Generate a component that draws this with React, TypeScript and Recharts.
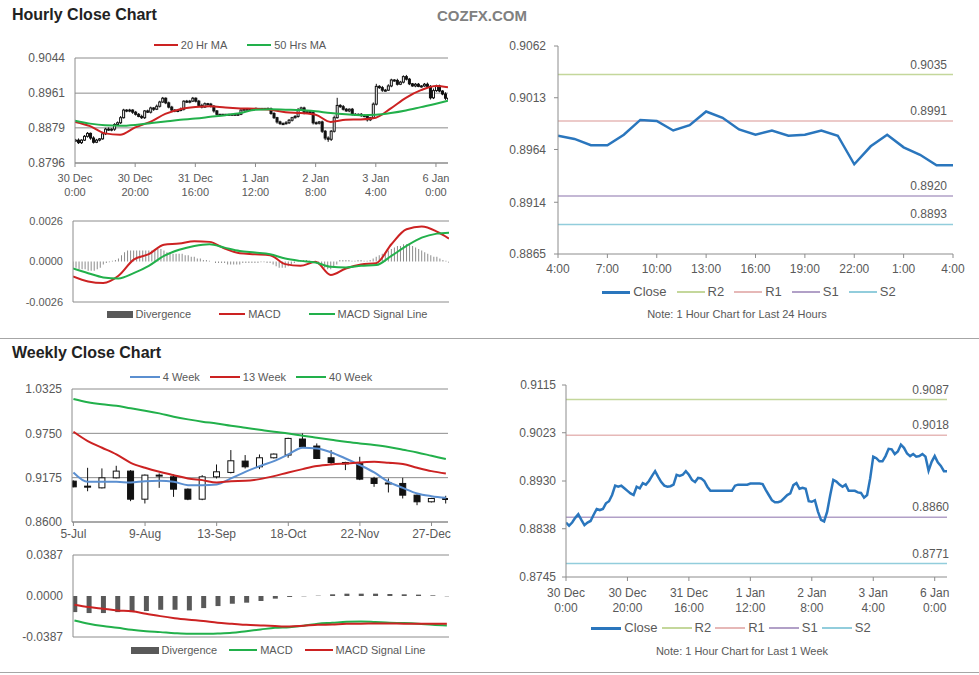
import React from "react";
import { ComposedChart, LineChart, Line, Bar, XAxis, YAxis, CartesianGrid, ReferenceLine } from "recharts";

const FONT = '"Liberation Sans", Arial, sans-serif';
const TEXT = "#595959";
const AXIS = "#8c8c8c";
const RED = "#cc2222";
const GREEN = "#22b04b";
const BLUE = "#2a76bd";

// hourly closes, 30 Dec 0:00 -> 6 Jan 4:00
const hourlyClose = [
  0.8850, 0.8844, 0.8850, 0.8859, 0.8866, 0.8855, 0.8845, 0.8850, 0.8853, 0.8865,
  0.8876, 0.8874, 0.8876, 0.8887, 0.8891, 0.8903, 0.8921, 0.8919, 0.8921, 0.8916,
  0.8911, 0.8906, 0.8903, 0.8919, 0.8916, 0.8926, 0.8923, 0.8930, 0.8940, 0.8949,
  0.8938, 0.8928, 0.8921, 0.8919, 0.8920, 0.8923, 0.8942, 0.8940, 0.8942, 0.8949,
  0.8942, 0.8932, 0.8928, 0.8936, 0.8935, 0.8930, 0.8919, 0.8911, 0.8911, 0.8911,
  0.8911, 0.8911, 0.8911, 0.8911, 0.8911, 0.8921, 0.8923, 0.8923, 0.8923, 0.8923,
  0.8925, 0.8925, 0.8925, 0.8925, 0.8924, 0.8913, 0.8903, 0.8893, 0.8889, 0.8889,
  0.8891, 0.8897, 0.8903, 0.8906, 0.8922, 0.8926, 0.8915, 0.8917, 0.8915, 0.8891,
  0.8890, 0.8893, 0.8871, 0.8855, 0.8852, 0.8871, 0.8903, 0.8932, 0.8929, 0.8923,
  0.8919, 0.8923, 0.8911, 0.8911, 0.8911, 0.8908, 0.8907, 0.8898, 0.8903, 0.8935,
  0.8977, 0.8974, 0.8968, 0.8968, 0.8978, 0.8992, 0.8991, 0.8982, 0.8987, 0.9000,
  0.8994, 0.8983, 0.8978, 0.8982, 0.8977, 0.8978, 0.8982, 0.8977, 0.8950, 0.8967,
  0.8978, 0.8966, 0.8959, 0.8949, 0.8949,
];

// candle wicks in pips above / below the body
const hourlyWickUp = [
  3, 4, 2, 3, 3, 2, 4, 3, 2, 3,
  3, 4, 2, 3, 3, 4, 3, 2, 3, 2,
  3, 3, 4, 2, 3, 3, 2, 4, 3, 3,
  2, 3, 3, 2, 3, 4, 2, 3, 3, 3,
  2, 3, 4, 3, 2, 3, 3, 2, 1, 1,
  1, 1, 1, 1, 2, 2, 1, 1, 1, 1,
  2, 1, 1, 1, 2, 3, 3, 2, 3, 3,
  4, 3, 2, 3, 4, 3, 3, 4, 2, 3,
  3, 2, 3, 3, 4, 3, 5, 18, 3, 4,
  3, 2, 3, 3, 2, 3, 3, 3, 2, 4,
  6, 3, 4, 3, 4, 3, 2, 4, 3, 3,
  4, 3, 2, 3, 3, 2, 3, 4, 3, 5,
  3, 3, 2, 4, 3,
];
const hourlyWickDown = [
  4, 3, 3, 2, 3, 4, 3, 2, 3, 2,
  3, 2, 3, 4, 2, 3, 2, 3, 3, 4,
  3, 2, 3, 3, 2, 3, 4, 2, 3, 2,
  3, 3, 2, 3, 3, 2, 3, 2, 3, 2,
  3, 2, 3, 2, 3, 3, 4, 2, 1, 1,
  1, 1, 1, 1, 1, 2, 1, 1, 1, 1,
  1, 1, 1, 1, 2, 3, 3, 4, 3, 3,
  2, 3, 3, 2, 3, 3, 4, 3, 2, 4,
  3, 3, 4, 5, 6, 4, 3, 2, 3, 3,
  2, 3, 3, 2, 2, 3, 3, 4, 3, 2,
  3, 3, 4, 3, 2, 3, 3, 3, 2, 3,
  3, 3, 2, 3, 2, 3, 2, 3, 4, 3,
  3, 3, 3, 4, 3,
];

const hourlyDivergence = [
  -0.0004, -0.0004, -0.0005, -0.0005, -0.0005, -0.0006, -0.0006, -0.0006, -0.0005, -0.0004,
  -0.0002, -0.0001, -0.00005, 0.00005, 0.0001, 0.0002, 0.0004, 0.0006, 0.0007, 0.0007,
  0.0007, 0.0007, 0.0007, 0.0007, 0.0007, 0.0007, 0.0007, 0.0008, 0.0008, 0.0008,
  0.0007, 0.0006, 0.0006, 0.0005, 0.0005, 0.0005, 0.0005, 0.0004, 0.0004, 0.0003,
  0.0003, 0.0002, 0.0002, 0.0001, 0.0001, 0.00005, 0, -0.0001, -0.0001, -0.0001,
  -0.0001, -0.0002, -0.0002, -0.0002, -0.0002, -0.0002, -0.0001, -0.0001, -0.0001, -0.0001,
  -0.0001, -0.0001, -0.00005, -0.00005, -0.0001, -0.0001, -0.0002, -0.0003, -0.0004, -0.0004,
  -0.0004, -0.0003, -0.0002, -0.0001, 0, 0.00005, 0.0001, 0.0001, 0.00005, -0.0001,
  -0.0001, -0.0002, -0.0003, -0.0004, -0.0005, -0.0005, -0.0004, -0.0002, 0.0001, 0.0001,
  0.0001, 0.0001, 0.00005, 0.00005, 0.0001, 0.0001, 0.00005, 0.00005, 0.0001, 0.0002,
  0.0003, 0.0004, 0.0005, 0.0006, 0.0007, 0.0008, 0.0009, 0.001, 0.001, 0.0011,
  0.0011, 0.0011, 0.001, 0.0009, 0.0008, 0.0007, 0.0006, 0.0005, 0.0004, 0.0003,
  0.0003, 0.0002, 0.0001, 0.00005, -0.0001,
];

// moving averages and MACD lines, read every 5 hours
const maHours = [0, 5, 10, 15, 20, 25, 30, 35, 40, 45, 50, 55, 60, 65, 70, 75, 80, 85, 90, 95, 100, 105, 110, 115, 120, 124];
const ma20Hr = [0.8893, 0.8883, 0.8866, 0.8863, 0.8880, 0.8893, 0.8912, 0.8923, 0.8928, 0.8930, 0.8927, 0.8925, 0.8924, 0.8922, 0.8916, 0.8914, 0.8910, 0.8893, 0.8898, 0.8899, 0.8903, 0.8925, 0.8950, 0.8968, 0.8978, 0.8975];
const ma50Hr = [0.8896, 0.8889, 0.8885, 0.8884, 0.8886, 0.8890, 0.8894, 0.8898, 0.8901, 0.8905, 0.8909, 0.8914, 0.8922, 0.8923, 0.8922, 0.8921, 0.8918, 0.8914, 0.8911, 0.8909, 0.8910, 0.8914, 0.8920, 0.8928, 0.8936, 0.8943];
const hourlyMacd = [-0.00096, -0.00128, -0.00138, -0.00092, 0.00012, 0.00047, 0.00108, 0.00115, 0.0013, 0.00126, 0.00083, 0.00053, 0.00047, 0.0004, -0.00017, -0.00028, -0.00002, -0.00087, -0.00045, -0.00019, -0.00011, 0.00111, 0.00207, 0.00224, 0.00192, 0.00147];
const hourlySignal = [-0.00045, -0.00075, -0.00102, -0.00109, -0.00075, -0.00028, 0.00036, 0.00075, 0.001, 0.00111, 0.00089, 0.00068, 0.00058, 0.00047, 0.00019, 0.00004, -0.00006, -0.00034, -0.00038, -0.00028, -0.00023, 0.00036, 0.001, 0.00153, 0.00179, 0.00185];

const hourTicks = [0, 20, 40, 60, 80, 100, 120];
const hourTickDays = ["30 Dec", "30 Dec", "31 Dec", "1 Jan", "2 Jan", "3 Jan", "6 Jan"];
const hourTickTimes = ["0:00", "20:00", "16:00", "12:00", "8:00", "4:00", "0:00"];

// last 24 hours
const dayStart = 100;
const dayHours = [
  "4:00", "5:00", "6:00", "7:00", "8:00", "9:00", "10:00", "11:00", "12:00", "13:00",
  "14:00", "15:00", "16:00", "17:00", "18:00", "19:00", "20:00", "21:00", "22:00", "23:00",
  "0:00", "1:00", "2:00", "3:00", "4:00",
];
const dayTicks = [0, 3, 6, 9, 12, 15, 18, 21, 24];

const levelNames = ["R2", "R1", "S1", "S2"];
const levelColors = ["#c4d79b", "#e6b8b7", "#b1a0c7", "#92cddc"];
const dayLevels = [0.9035, 0.8991, 0.892, 0.8893];
const weekLevels = [0.9087, 0.9018, 0.886, 0.8771];

// weekly
const weekLabels = [
  "5-Jul", "12-Jul", "19-Jul", "26-Jul", "2-Aug", "9-Aug", "16-Aug", "23-Aug", "30-Aug", "6-Sep",
  "13-Sep", "20-Sep", "27-Sep", "4-Oct", "11-Oct", "18-Oct", "25-Oct", "1-Nov", "8-Nov", "15-Nov",
  "22-Nov", "29-Nov", "6-Dec", "13-Dec", "20-Dec", "27-Dec", "3-Jan",
];
const weekOpen = [0.913, 0.9065, 0.9043, 0.9173, 0.926, 0.8896, 0.9195, 0.9186, 0.9026, 0.8896, 0.9186, 0.9243, 0.939, 0.9316, 0.9433, 0.9468, 0.9676, 0.9585, 0.9433, 0.9372, 0.9372, 0.9165, 0.9106, 0.91, 0.8948, 0.8862, 0.8905];
const weekClose = [0.9056, 0.9056, 0.9173, 0.926, 0.8896, 0.9208, 0.9208, 0.9026, 0.8896, 0.9186, 0.9251, 0.9394, 0.9316, 0.9433, 0.9481, 0.9684, 0.9576, 0.9424, 0.9372, 0.9355, 0.9156, 0.91, 0.91, 0.8948, 0.8862, 0.8905, 0.8895];
const weekHigh = [0.914, 0.9303, 0.9295, 0.9329, 0.9273, 0.9217, 0.923, 0.9217, 0.9035, 0.9208, 0.9346, 0.9533, 0.9468, 0.9476, 0.9489, 0.9693, 0.9749, 0.9619, 0.9533, 0.9381, 0.9446, 0.9186, 0.9165, 0.9173, 0.8957, 0.8913, 0.894];
const weekLow = [0.905, 0.8999, 0.9035, 0.9165, 0.887, 0.884, 0.9043, 0.8926, 0.8883, 0.8883, 0.9165, 0.923, 0.9294, 0.9286, 0.9424, 0.9433, 0.9572, 0.9416, 0.9346, 0.9273, 0.9143, 0.9056, 0.8983, 0.8905, 0.8818, 0.8853, 0.884];
const week4 = [0.9243, 0.9121, 0.9121, 0.9121, 0.9113, 0.913, 0.9134, 0.9121, 0.9078, 0.9078, 0.9087, 0.9165, 0.9251, 0.9325, 0.939, 0.9476, 0.9563, 0.9554, 0.9502, 0.9424, 0.9338, 0.9243, 0.9121, 0.9043, 0.897, 0.8935, 0.8913];
const week13 = [0.9771, 0.965, 0.9563, 0.9476, 0.9368, 0.9303, 0.9251, 0.9208, 0.9165, 0.9143, 0.9113, 0.913, 0.9134, 0.9156, 0.9195, 0.9243, 0.9286, 0.9325, 0.9346, 0.9359, 0.9372, 0.9381, 0.9368, 0.9351, 0.9303, 0.926, 0.923];
const week40 = [1.0195, 1.0152, 1.0126, 1.0109, 1.0074, 1.0044, 1.0009, 0.9966, 0.9931, 0.9901, 0.9879, 0.9849, 0.9823, 0.9797, 0.9771, 0.9749, 0.9719, 0.9693, 0.9667, 0.9641, 0.9619, 0.9598, 0.9572, 0.9537, 0.9502, 0.9459, 0.9416];
const weekMacd = [-0.0231, -0.0262, -0.0284, -0.03, -0.0319, -0.0332, -0.0341, -0.0351, -0.0357, -0.0357, -0.0354, -0.0348, -0.0332, -0.0316, -0.03, -0.0294, -0.0281, -0.0262, -0.0253, -0.0243, -0.024, -0.0246, -0.0253, -0.0256, -0.0262, -0.0272, -0.0278];
const weekSignal = [-0.0082, -0.0104, -0.012, -0.0136, -0.0145, -0.0167, -0.019, -0.0209, -0.0224, -0.0237, -0.0253, -0.0262, -0.0272, -0.0278, -0.0284, -0.0288, -0.0281, -0.0272, -0.0269, -0.0262, -0.0262, -0.0259, -0.0259, -0.0262, -0.0262, -0.0262, -0.0262];
const weekDivergence = [-0.0152, -0.0161, -0.0161, -0.0152, -0.0152, -0.0142, -0.013, -0.013, -0.0136, -0.0114, -0.0095, -0.0073, -0.0063, -0.0047, -0.0025, -0.0009, -0.0003, 0.0003, 0.0016, 0.0022, 0.0022, 0.0022, 0.0019, 0.0016, 0.0013, 0.0006, -0.0003];
const weekTicks = [0, 5, 10, 15, 20, 25];

const hourlyRows = hourlyClose.map((close, h) => {
  const open = h > 0 ? hourlyClose[h - 1] : close;
  const high = Math.max(open, close) + hourlyWickUp[h] / 10000;
  const low = Math.min(open, close) - hourlyWickDown[h] / 10000;
  const k = maHours.indexOf(h);
  return {
    h, open, close, range: [low, high],
    ma20: k >= 0 ? ma20Hr[k] : null,
    ma50: k >= 0 ? ma50Hr[k] : null,
    macd: k >= 0 ? hourlyMacd[k] : null,
    signal: k >= 0 ? hourlySignal[k] : null,
    div: hourlyDivergence[h],
  };
});

const dayRows = hourlyClose.slice(dayStart).map((close, i) => ({ i, close }));

const weekRows = weekLabels.map((label, i) => ({
  i, label, open: weekOpen[i], close: weekClose[i], range: [weekLow[i], weekHigh[i]],
  w4: week4[i], w13: week13[i], w40: week40[i],
  macd: weekMacd[i], signal: weekSignal[i], div: weekDivergence[i],
}));

const tickStyle = (size: number) => ({ fontSize: size, fill: TEXT, fontFamily: FONT });
const fmt4 = (v: number) => v.toFixed(4);

const Candle = (props: any) => {
  const { x, y, width, height } = props;
  const p = props.payload ?? props;
  const [low, high] = p.range;
  const top = Math.min(y, y + height);
  const h = Math.abs(height);
  const k = high > low ? h / (high - low) : 0;
  const bodyTop = top + (high - Math.max(p.open, p.close)) * k;
  const bodyBot = top + (high - Math.min(p.open, p.close)) * k;
  const cx = x + width / 2;
  const up = p.close > p.open;
  return (
    <g>
      <line x1={cx} x2={cx} y1={top} y2={top + h} stroke="#111" strokeWidth={1} />
      <rect x={x} y={bodyTop} width={width} height={Math.max(bodyBot - bodyTop, 1)} fill={up ? "#fff" : "#111"} stroke="#111" strokeWidth={1} />
    </g>
  );
};

const HourTick = (props: any) => {
  const { x, y, payload, fontSize } = props;
  const i = hourTicks.indexOf(payload.value);
  return (
    <text x={x} y={y} textAnchor="middle" fontSize={fontSize} fill={TEXT} fontFamily={FONT}>
      <tspan x={x} dy={fontSize + 2}>{hourTickDays[i]}</tspan>
      <tspan x={x} dy={fontSize + 3}>{hourTickTimes[i]}</tspan>
    </text>
  );
};

const levelLabel = (p: any, value: number, dx: number) => {
  const vb = p.viewBox || {};
  return (
    <text x={vb.x + vb.width + dx} y={vb.y - 6} textAnchor="end" fontSize={12} fill={TEXT} fontFamily={FONT}>
      {value.toFixed(4)}
    </text>
  );
};

type LegendItem = { label: string; color: string; kind?: "bar"; thick?: number };

const ChartLegend = ({ items, cx, cy, fontSize, swatch, gap }: { items: LegendItem[]; cx: number; cy: number; fontSize: number; swatch: number; gap: number }) => (
  <div style={{ position: "absolute", left: cx - 250, width: 500, top: cy - 8, height: 16, lineHeight: "16px", display: "flex", justifyContent: "center", alignItems: "center", fontSize, color: TEXT, fontFamily: FONT, whiteSpace: "nowrap" }}>
    {items.map((it, k) => (
      <span key={it.label} style={{ display: "inline-flex", alignItems: "center", marginRight: k < items.length - 1 ? gap : 0 }}>
        <span style={{ display: "inline-block", width: swatch, height: it.kind === "bar" ? 7 : it.thick ?? 2, background: it.color, marginRight: 3 }} />
        {it.label}
      </span>
    ))}
  </div>
);

const Note = ({ cx, cy, text }: { cx: number; cy: number; text: string }) => (
  <div style={{ position: "absolute", left: cx - 200, width: 400, top: cy - 7, textAlign: "center", fontSize: 11, lineHeight: "14px", color: TEXT, fontFamily: FONT }}>{text}</div>
);

const Title = ({ top, text }: { top: number; text: string }) => (
  <div style={{ position: "absolute", left: 12, top, fontSize: 16, fontWeight: "bold", color: "#222", fontFamily: FONT, lineHeight: "18px" }}>{text}</div>
);

const levelItems: LegendItem[] = levelNames.map((n, k) => ({ label: n, color: levelColors[k], thick: 2 }));

export default function App() {
  return (
    <div style={{ position: "absolute", left: 0, top: 0, width: 979, height: 675, background: "#fff", fontFamily: FONT, overflow: "hidden" }}>
      <Title top={6} text="Hourly Close Chart" />
      <div style={{ position: "absolute", left: 437, top: 7, fontSize: 15, fontWeight: "bold", color: "#808080", lineHeight: "18px" }}>COZFX.COM</div>

      {/* hourly candles with moving averages */}
      <ChartLegend cx={240} cy={45} fontSize={11} swatch={24} gap={20} items={[{ label: "20 Hr MA", color: RED }, { label: "50 Hrs MA", color: GREEN }]} />
      <div style={{ position: "absolute", left: 0, top: 50 }}>
        <ComposedChart width={452} height={155} data={hourlyRows} margin={{ top: 8, right: 4, bottom: 2, left: 0 }}>
          <CartesianGrid vertical={false} stroke={AXIS} />
          <XAxis dataKey="h" type="number" domain={[0, 124]} allowDataOverflow ticks={hourTicks} interval={0} height={40} tickSize={4} tickMargin={2} stroke={AXIS} tick={(p: any) => <HourTick {...p} fontSize={11} />} />
          <YAxis type="number" domain={[0.8796, 0.9044]} allowDataOverflow ticks={[0.8796, 0.8879, 0.8961, 0.9044]} interval={0} width={75} tickSize={0} tickMargin={10} tickLine={false} stroke={AXIS} tick={tickStyle(12)} tickFormatter={fmt4} />
          <Bar dataKey="range" barSize={2} shape={Candle} isAnimationActive={false} />
          <Line dataKey="ma20" type="monotone" stroke={RED} strokeWidth={2} dot={false} connectNulls isAnimationActive={false} />
          <Line dataKey="ma50" type="monotone" stroke={GREEN} strokeWidth={2} dot={false} connectNulls isAnimationActive={false} />
        </ComposedChart>
      </div>

      {/* hourly MACD */}
      <div style={{ position: "absolute", left: 0, top: 213 }}>
        <ComposedChart width={452} height={100} data={hourlyRows} margin={{ top: 8, right: 3, bottom: 10, left: 0 }}>
          <XAxis dataKey="h" type="number" domain={[0, 124]} allowDataOverflow tick={false} tickLine={false} height={1} stroke={AXIS} />
          <YAxis type="number" domain={[-0.0026, 0.0026]} allowDataOverflow ticks={[-0.0026, 0, 0.0026]} interval={0} width={73} tickSize={0} tickMargin={10} tickLine={false} stroke={AXIS} tick={tickStyle(11)} tickFormatter={fmt4} />
          <ReferenceLine y={0.0026} stroke={AXIS} />
          <Bar dataKey="div" barSize={1} fill="#8c8c8c" isAnimationActive={false} />
          <Line dataKey="macd" type="monotone" stroke={RED} strokeWidth={2} dot={false} connectNulls isAnimationActive={false} />
          <Line dataKey="signal" type="monotone" stroke={GREEN} strokeWidth={2} dot={false} connectNulls isAnimationActive={false} />
        </ComposedChart>
      </div>
      <ChartLegend cx={267} cy={314} fontSize={11} swatch={26} gap={28} items={[{ label: "Divergence", color: "#595959", kind: "bar" }, { label: "MACD", color: RED }, { label: "MACD Signal Line", color: GREEN }]} />

      {/* last 24 hours close */}
      <div style={{ position: "absolute", left: 480, top: 38 }}>
        <LineChart width={495} height={243} data={dayRows} margin={{ top: 8, right: 22, bottom: 2, left: 0 }}>
          <XAxis dataKey="i" type="number" domain={[0, 24]} allowDataOverflow ticks={dayTicks} interval={0} tickFormatter={(v: number) => dayHours[v]} height={25} tickSize={4} tickMargin={6} stroke={AXIS} tick={tickStyle(12)} />
          <YAxis type="number" domain={[0.8865, 0.9062]} allowDataOverflow ticks={[0.8865, 0.8914, 0.8964, 0.9013, 0.9062]} interval={0} width={78} tickSize={4} tickMargin={8} stroke={AXIS} tick={tickStyle(12)} tickFormatter={fmt4} />
          {dayLevels.map((v, k) => (
            <ReferenceLine key={levelNames[k]} y={v} stroke={levelColors[k]} strokeWidth={1.5} label={(p: any) => levelLabel(p, v, -6)} />
          ))}
          <Line dataKey="close" type="linear" stroke={BLUE} strokeWidth={2.5} dot={false} isAnimationActive={false} />
        </LineChart>
      </div>
      <ChartLegend cx={749} cy={292} fontSize={13} swatch={28} gap={10} items={[{ label: "Close", color: BLUE, thick: 3 }, ...levelItems]} />
      <Note cx={737} cy={314} text="Note: 1 Hour Chart for Last 24 Hours" />

      <div style={{ position: "absolute", left: 0, top: 338, width: 979, height: 1, background: "#a6a6a6" }} />
      <Title top={344} text="Weekly Close Chart" />

      {/* weekly candles */}
      <ChartLegend cx={251} cy={377} fontSize={11} swatch={30} gap={10} items={[{ label: "4 Week", color: "#5b8fd0" }, { label: "13 Week", color: RED }, { label: "40 Week", color: GREEN }]} />
      <div style={{ position: "absolute", left: 0, top: 381 }}>
        <ComposedChart width={452} height={165} data={weekRows} margin={{ top: 8, right: 4, bottom: 2, left: 0 }}>
          <CartesianGrid vertical={false} stroke={AXIS} />
          <XAxis dataKey="i" type="number" domain={[-0.1, 26.15]} allowDataOverflow ticks={weekTicks} interval={0} tickFormatter={(v: number) => weekLabels[v]} height={22} tickSize={4} tickMargin={3} stroke={AXIS} tick={tickStyle(12)} />
          <YAxis type="number" domain={[0.86, 1.0325]} allowDataOverflow ticks={[0.86, 0.9175, 0.975, 1.0325]} interval={0} width={72} tickSize={0} tickMargin={10} tickLine={false} stroke={AXIS} tick={tickStyle(12)} tickFormatter={fmt4} />
          <Bar dataKey="range" barSize={6} shape={Candle} isAnimationActive={false} />
          <Line dataKey="w4" type="monotone" stroke="#5b8fd0" strokeWidth={2} dot={false} isAnimationActive={false} />
          <Line dataKey="w13" type="monotone" stroke={RED} strokeWidth={2} dot={false} isAnimationActive={false} />
          <Line dataKey="w40" type="monotone" stroke={GREEN} strokeWidth={2} dot={false} isAnimationActive={false} />
        </ComposedChart>
      </div>

      {/* weekly MACD */}
      <div style={{ position: "absolute", left: 0, top: 547 }}>
        <ComposedChart width={452} height={101} data={weekRows} margin={{ top: 8, right: 3, bottom: 10, left: 0 }}>
          <XAxis dataKey="i" type="number" domain={[-0.1, 26.15]} allowDataOverflow tick={false} tickLine={false} height={1} stroke={AXIS} />
          <YAxis type="number" domain={[-0.0387, 0.0387]} allowDataOverflow ticks={[-0.0387, 0, 0.0387]} interval={0} width={73} tickSize={0} tickMargin={10} tickLine={false} stroke={AXIS} tick={tickStyle(12)} tickFormatter={fmt4} />
          <ReferenceLine y={0.0387} stroke={AXIS} />
          <Bar dataKey="div" barSize={5} fill="#595959" isAnimationActive={false} />
          <Line dataKey="macd" type="monotone" stroke={GREEN} strokeWidth={2} dot={false} isAnimationActive={false} />
          <Line dataKey="signal" type="monotone" stroke={RED} strokeWidth={2} dot={false} isAnimationActive={false} />
        </ComposedChart>
      </div>
      <ChartLegend cx={278} cy={650} fontSize={11} swatch={28} gap={12} items={[{ label: "Divergence", color: "#595959", kind: "bar" }, { label: "MACD", color: GREEN }, { label: "MACD Signal Line", color: RED }]} />

      {/* last week hourly close */}
      <div style={{ position: "absolute", left: 480, top: 377 }}>
        <LineChart width={479} height={242} data={hourlyRows} margin={{ top: 8, right: 12, bottom: 2, left: 0 }}>
          <XAxis dataKey="h" type="number" domain={[0, 124]} allowDataOverflow ticks={hourTicks} interval={0} height={40} tickSize={4} tickMargin={2} stroke={AXIS} tick={(p: any) => <HourTick {...p} fontSize={12} />} />
          <YAxis type="number" domain={[0.8745, 0.9115]} allowDataOverflow ticks={[0.8745, 0.8838, 0.893, 0.9023, 0.9115]} interval={0} width={86} tickSize={4} tickMargin={6} stroke={AXIS} tick={tickStyle(12)} tickFormatter={fmt4} />
          {weekLevels.map((v, k) => (
            <ReferenceLine key={levelNames[k]} y={v} stroke={levelColors[k]} strokeWidth={1.5} label={(p: any) => levelLabel(p, v, 2)} />
          ))}
          <Line dataKey="close" type="linear" stroke={BLUE} strokeWidth={2.5} dot={false} isAnimationActive={false} />
        </LineChart>
      </div>
      <ChartLegend cx={731} cy={628} fontSize={13} swatch={30} gap={4} items={[{ label: "Close", color: BLUE, thick: 3 }, ...levelItems]} />
      <Note cx={742} cy={651} text="Note: 1 Hour Chart for Last 1 Week" />

      <div style={{ position: "absolute", left: 0, top: 672, width: 979, height: 1, background: "#a6a6a6" }} />
    </div>
  );
}
